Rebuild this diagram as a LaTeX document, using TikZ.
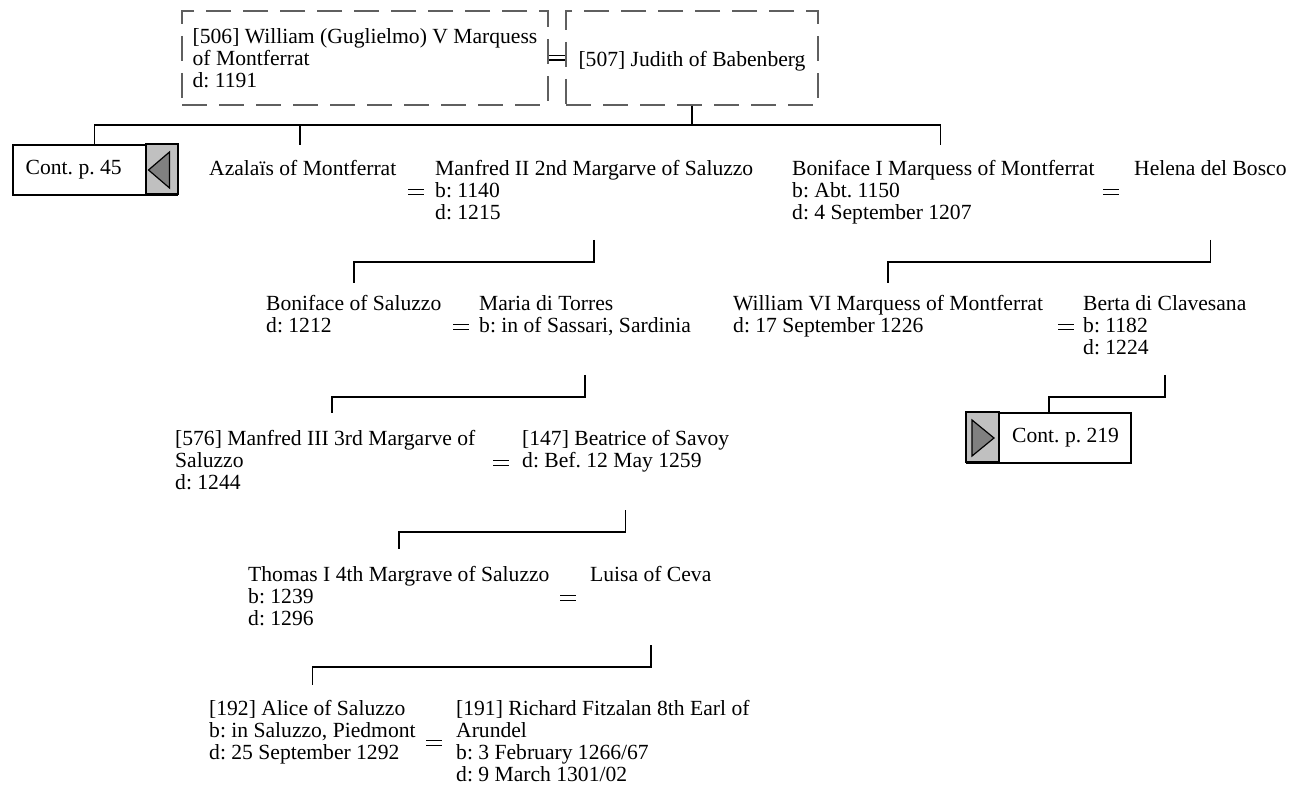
\documentclass[tikz,border=0pt]{standalone}
\usepackage{fontspec}
\setmainfont{Liberation Serif}
\frenchspacing
\definecolor{dashgray}{RGB}{95,95,95}
\definecolor{cgray}{RGB}{192,192,192}
\definecolor{tgray}{RGB}{128,128,128}
\tikzset{
  ln/.style={line width=1.5pt, black},
  person/.style={anchor=base west, inner sep=0pt, font=\fontsize{21.6}{22}\selectfont},
  dbox/.style={draw=dashgray, line width=1.3pt, dash pattern=on 25pt off 12pt, inner sep=0pt, font=\fontsize{21.6}{22}\selectfont, minimum height=94pt},
  contbox/.style={draw=black, line width=2pt, fill=white, minimum width=164pt, minimum height=50pt, inner sep=0pt},
  conttext/.style={anchor=west, inner sep=0pt, font=\fontsize{21.6}{22}\selectfont},
  marr/.style={line width=1.2pt, double distance=3pt},
  eqsign/.pic={\draw[line width=1.6pt] (-8,-2.6) -- (8,-2.6) (-8,2.6) -- (8,2.6);}
}
\newcommand{\pl}[1]{\begin{tabular}[t]{@{}l@{}}#1\end{tabular}}
\newcommand{\dn}[1]{\raisebox{-3pt}[\height][\depth]{#1}}
\begin{document}
\begin{tikzpicture}[x=1pt,y=-1pt]
\useasboundingbox[fill=white] (0,0) rectangle (1291,791);

% top couple
\node[dbox, minimum width=366pt] (wil5) at (365,58) {\dn{\pl{[506] William (Guglielmo) V Marquess\\of Montferrat\\d: 1191}}};
\node[dbox, minimum width=252pt] (judith) at (692,58) {\dn{[507] Judith of Babenberg}};
\draw[marr] (wil5.east) -- (judith.west);

% row A
\node[contbox] (cont1) at (94.5,170) {};
\draw[line width=2pt, fill=cgray] (cont1.north east) rectangle ++(-32,50);
\filldraw[fill=tgray, line width=1.2pt] ([xshift=-29pt]cont1.east) -- ++(21,-18) -- ++(0,36) -- cycle;
\node[conttext] (c1t) at ([xshift=14pt]cont1.west) {Cont. p. 45};

\node[person] (azalais) at (209,176) {\pl{Azala\"is of Montferrat}};
\node[person] (manfred2) at (435,176) {\pl{Manfred II 2nd Margarve of Saluzzo\\b: 1140\\d: 1215}};
\node[person] (boniface1) at (792,176) {\pl{Boniface I Marquess of Montferrat\\b: Abt. 1150\\d: 4 September 1207}};
\node[person] (helena) at (1134,176) {\pl{Helena del Bosco}};
\pic at (416,192) {eqsign};
\pic at (1111,192) {eqsign};

% row B
\node[person] (bonsal) at (266,311) {\pl{Boniface of Saluzzo\\d: 1212}};
\node[person] (maria) at (479,311) {\pl{Maria di Torres\\b: in of Sassari, Sardinia}};
\node[person] (william6) at (733,311) {\pl{William VI Marquess of Montferrat\\d: 17 September 1226}};
\node[person] (berta) at (1083,311) {\pl{Berta di Clavesana\\b: 1182\\d: 1224}};
\pic at (461,327) {eqsign};
\pic at (1066,327) {eqsign};

\node[contbox] (cont2) at (1049,438) {};
\draw[line width=2pt, fill=cgray] (cont2.north west) rectangle ++(33,50);
\filldraw[fill=tgray, line width=1.2pt] ([xshift=6pt]cont2.west) ++(0,-18) -- ++(0,36) -- ++(22,-18) -- cycle;
\node[conttext] (c2t) at ([xshift=46pt]cont2.west) {Cont. p. 219};

% row C
\node[person] (manfred3) at (175,446) {\pl{[576] Manfred III 3rd Margarve of\\Saluzzo\\d: 1244}};
\node[person] (beatrice) at (522,446) {\pl{[147] Beatrice of Savoy\\d: Bef. 12 May 1259}};
\pic at (501,463) {eqsign};

% row D
\node[person] (thomas) at (248,581) {\pl{Thomas I 4th Margrave of Saluzzo\\b: 1239\\d: 1296}};
\node[person] (luisa) at (590,581) {\pl{Luisa of Ceva}};
\pic at (568,598) {eqsign};

% row E
\node[person] (alice) at (209,715) {\pl{[192] Alice of Saluzzo\\b: in Saluzzo, Piedmont\\d: 25 September 1292}};
\node[person] (richard) at (456,715) {\pl{[191] Richard Fitzalan 8th Earl of\\Arundel\\b: 3 February 1266/67\\d: 9 March 1301/02}};
\pic at (434,743) {eqsign};

% level coordinates
\coordinate (y0) at (0,125); \coordinate (yA0) at (0,145);
\coordinate (yA1) at (0,240); \coordinate (yA2) at (0,262); \coordinate (yB0) at (0,283);
\coordinate (yB1) at (0,375); \coordinate (yB2) at (0,397); \coordinate (yC0) at (0,413);
\coordinate (yC1) at (0,510); \coordinate (yC2) at (0,532); \coordinate (yD0) at (0,549);
\coordinate (yD1) at (0,645); \coordinate (yD2) at (0,667); \coordinate (yE0) at (0,685);
\coordinate (azx) at ([xshift=-3pt]azalais.north);
\coordinate (bfx) at ([xshift=-3pt]boniface1.north);
\coordinate (m3x) at ([xshift=7pt]manfred3.north);

% connectors
\draw[ln] (judith.south) -- (judith.south |- y0);
\draw[ln] (cont1.north) -- (cont1.north |- y0) -- (bfx |- y0) -- (bfx |- yA0);
\draw[ln] (azx |- y0) -- (azx |- yA0);

\draw[ln] (manfred2.north |- yA1) -- (manfred2.north |- yA2) -| (bonsal.north |- yB0);
\draw[ln] (helena.north |- yA1) -- (helena.north |- yA2) -| (william6.north |- yB0);

\draw[ln] (maria.north |- yB1) -- (maria.north |- yB2) -| (m3x |- yC0);
\draw[ln] (berta.north |- yB1) -- (berta.north |- yB2) -| (cont2.north);

\draw[ln] (beatrice.north |- yC1) -- (beatrice.north |- yC2) -| (thomas.north |- yD0);
\draw[ln] (luisa.north |- yD1) -- (luisa.north |- yD2) -| (alice.north |- yE0);
\end{tikzpicture}
\end{document}
